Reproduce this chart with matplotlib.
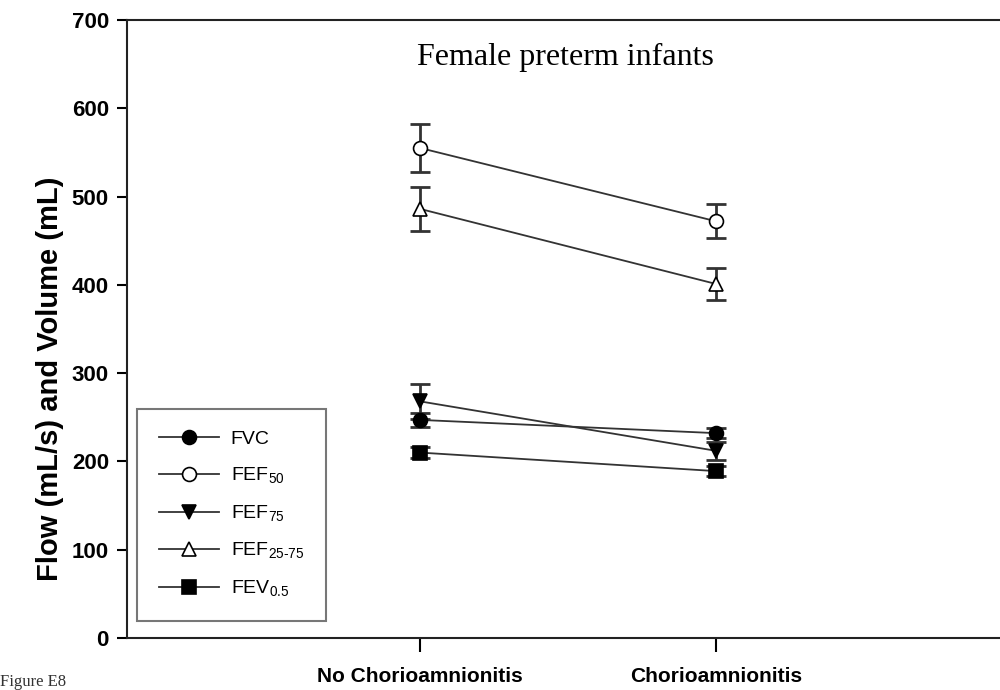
import matplotlib
matplotlib.use("Agg")
import matplotlib.pyplot as plt

plt.rcParams["font.family"] = ["Liberation Sans", "DejaVu Sans"]
plt.rcParams["mathtext.fontset"] = "custom"
plt.rcParams["mathtext.rm"] = "Liberation Sans"

grupos = ["No Chorioamnionitis", "Chorioamnionitis"]
x_pos = [1, 2]

# medias y errores estandar
fvc = [247, 232]
fvc_err = [8, 6]
fef50 = [555, 472]
fef50_err = [27, 19]
fef75 = [268, 212]
fef75_err = [20, 10]
fef2575 = [486, 401]
fef2575_err = [25, 18]
fev05 = [210, 189]
fev05_err = [6, 6]

series = [
    ("FVC", fvc, fvc_err, "o", "black"),
    ("FEF$_\\mathregular{50}$", fef50, fef50_err, "o", "white"),
    ("FEF$_\\mathregular{75}$", fef75, fef75_err, "v", "black"),
    ("FEF$_\\mathregular{25\\text{-}75}$", fef2575, fef2575_err, "^", "white"),
    ("FEV$_\\mathregular{0.5}$", fev05, fev05_err, "s", "black"),
]

fig = plt.figure(figsize=(10, 6.9), dpi=100)
ax = fig.add_axes([0.127, 0.0754, 0.873, 0.8957])

for nombre, vals, errs, marca, relleno in series:
    ax.errorbar(x_pos, vals, yerr=errs, fmt="none", ecolor="#333333",
                elinewidth=2, capsize=7, capthick=2, zorder=2)
    ax.plot(x_pos, vals, color="#333333", lw=1.3, marker=marca, ms=10,
            mfc=relleno, mec="black", mew=1.2, label=nombre, zorder=3)

ax.set_xlim(0.01, 2.96)
ax.set_ylim(0, 700)
ax.set_xticks(x_pos)
ax.set_xticklabels(grupos, fontsize=15, fontweight="bold")
ax.set_yticks(range(0, 701, 100))
ax.tick_params(axis="y", labelsize=16, width=1.5, length=7, direction="out", pad=6)
ax.tick_params(axis="x", width=1.5, length=10, direction="out", pad=11)
for lab in ax.get_yticklabels():
    lab.set_fontweight("bold")
ax.set_ylabel("Flow (mL/s) and Volume (mL)", fontsize=21, fontweight="bold")
ax.yaxis.set_label_coords(-0.072, 0.42)

ax.spines["right"].set_visible(False)
for s in ["left", "bottom", "top"]:
    ax.spines[s].set_linewidth(1.5)
    ax.spines[s].set_color("#222222")

ax.text(1.49, 657, "Female preterm infants", fontsize=23, family="Liberation Serif",
        ha="center", va="center")

leg = ax.legend(loc="lower left", bbox_to_anchor=(0.012, 0.028), fontsize=14,
                frameon=True, fancybox=False, edgecolor="#555555",
                handlelength=3.1, handletextpad=0.6, borderpad=1.1,
                labelspacing=0.9, borderaxespad=0)
leg.get_frame().set_linewidth(1.5)

fig.text(0.0, 0.0, "Figure E8", fontsize=12, family="Liberation Serif",
         ha="left", va="bottom", color="#333333")

fig.savefig("out.png", dpi=100)
